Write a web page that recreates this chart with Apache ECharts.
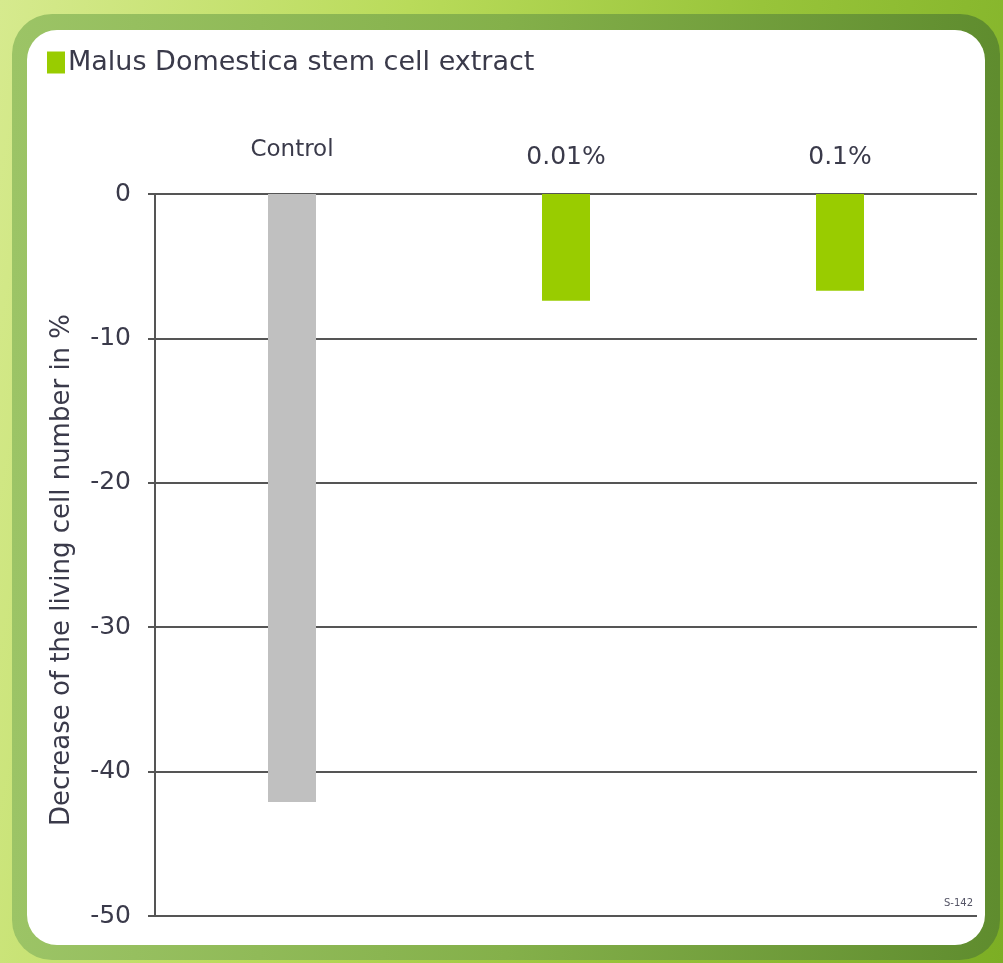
<!DOCTYPE html>
<html>
<head>
<meta charset="utf-8">
<script src="https://cdn.jsdelivr.net/npm/echarts@6/dist/echarts.min.js"></script>
<style>
html,body{margin:0;padding:0;width:1003px;height:963px;overflow:hidden;}
#bg{position:absolute;left:0;top:0;width:1003px;height:963px;
 background:linear-gradient(100deg,#d6ea8e 0%,#b9db5a 35%,#98c43a 65%,#7cae24 100%);}
#frame{position:absolute;left:12px;top:14px;width:988px;height:946px;border-radius:40px;
 background:linear-gradient(90deg,#9cc466 0%,#84b04a 50%,#5f8c2e 100%);}
#inner{position:absolute;left:27px;top:30px;width:958px;height:915px;border-radius:30px;background:#fff;}
#chart{position:absolute;left:0;top:0;width:1003px;height:963px;}
</style>
</head>
<body>
<div id="bg"></div>
<div id="frame"></div>
<div id="inner"></div>
<div id="chart"></div>
<script>
var categories = ['Control', '0.01%', '0.1%'];
var values = [-42.1, -7.4, -6.7];
var seriesName = 'Malus Domestica stem cell extract';
var yTicks = {min: -50, max: 0, interval: 10};
var yAxisTitle = 'Decrease of the living cell number in %';
var footnote = 'S-142';

var chart = echarts.init(document.getElementById('chart'), null, {renderer: 'canvas'});
var txt = '#3a3a4a';
chart.setOption({
  backgroundColor: 'transparent',
  animation: false,
  legend: {
    left: 42, top: 44,
    itemWidth: 18, itemHeight: 22, itemGap: 4,
    icon: 'rect',
    textStyle: {fontFamily: 'DejaVu Sans', fontSize: 27, color: txt, padding: [0, 0, 0, -2]},
    data: [{name: seriesName, itemStyle: {color: '#99cc00'}}]
  },
  grid: {left: 155, right: 26, top: 194, bottom: 47},
  xAxis: {
    type: 'category',
    position: 'top',
    data: categories.map(function (c, i) {
      return i === 0 ? {value: c, textStyle: {fontSize: 23, padding: [0, 0, 8, 0]}} : c;
    }),
    axisLine: {show: false},
    axisTick: {show: false},
    axisLabel: {fontFamily: 'DejaVu Sans', fontSize: 25, color: txt, margin: 24}
  },
  yAxis: {
    type: 'value',
    min: yTicks.min, max: yTicks.max, interval: yTicks.interval,
    name: yAxisTitle,
    nameLocation: 'middle',
    nameGap: 80,
    nameRotate: 90,
    nameTextStyle: {fontFamily: 'DejaVu Sans', fontSize: 26, color: txt, padding: [0, 30, 0, 0]},
    axisLine: {show: true, lineStyle: {color: '#555', width: 2}},
    axisTick: {show: true, length: 7, lineStyle: {color: '#555', width: 2}},
    axisLabel: {fontFamily: 'DejaVu Sans', fontSize: 25, color: txt, margin: 24},
    splitLine: {show: true, lineStyle: {color: '#555', width: 2}}
  },
  series: [{
    name: seriesName,
    type: 'bar',
    barWidth: 48,
    itemStyle: {color: '#99cc00'},
    data: values.map(function (v, i) {
      return i === 0 ? {value: v, itemStyle: {color: '#c0c0c0'}} : v;
    })
  }],
  graphic: [{
    type: 'text', right: 30, top: 898,
    style: {text: footnote, fontFamily: 'DejaVu Sans', fontSize: 10, fill: '#556'}
  }]
});
</script>
</body>
</html>
